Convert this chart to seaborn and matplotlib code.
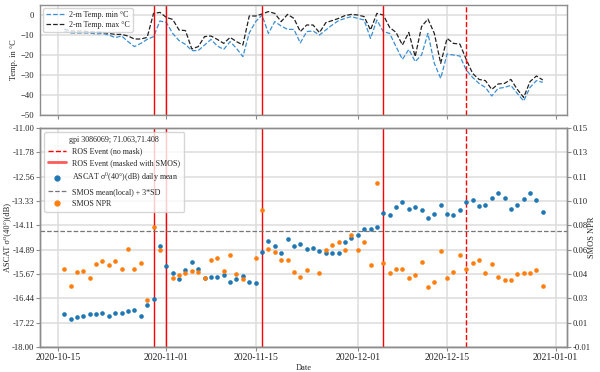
import numpy as np
import pandas as pd
import matplotlib
matplotlib.use("Agg")
import matplotlib.pyplot as plt
import matplotlib.dates as mdates
from matplotlib.lines import Line2D
import seaborn as sns

# daily series 2020-10-16 .. 2020-12-30
start_day = "2020-10-16"
end_day = "2020-12-30"

ascat_db = [-16.93, -17.10, -17.04, -17.02, -16.93, -16.93, -16.92, -17.02, -16.90, -16.92,
            -16.86, -16.82, -17.00, -16.66, -16.45, -14.77,
            -15.40, -15.63, -15.84, -15.53, -15.27, -15.51, -15.78, -15.75, -15.77, -15.69,
            -15.91, -15.83, -15.72, -15.91, -15.94, -14.96, -14.62, -14.78, -15.00, -14.54,
            -14.78, -14.71, -14.87, -14.85, -14.93, -15.00, -15.00, -14.98, -14.64, -14.53,
            -14.43, -14.23, -14.23, -14.16, -13.73, -13.78, -13.53, -13.37, -13.59, -13.52,
            -13.63, -13.89, -13.75, -13.46, -13.74, -13.78, -13.62, -13.35, -13.31, -13.48,
            -13.45, -13.24, -13.09, -13.24, -13.60, -13.45, -13.27, -13.09, -13.29, -13.67]

smos_npr = [0.0470, 0.0348, 0.0446, 0.0455, 0.0404, 0.0509, 0.0528, 0.0497, 0.0528, 0.0467,
            0.0618, 0.0467, 0.0516, 0.0241, 0.0779, 0.0606,
            np.nan, 0.0402, 0.0428, 0.0443, 0.0457, 0.0448, 0.0402, 0.0533, 0.0552, 0.0453,
            0.0572, 0.0433, 0.0397, np.nan, 0.0552, 0.0901, 0.0616, 0.0597, 0.0536, 0.0536,
            0.0448, 0.0414, 0.0463, np.nan, 0.0438, 0.0611, 0.0648, 0.0670, 0.0606, 0.0716,
            0.0606, 0.0665, 0.0497, 0.1096, 0.0511, 0.0443, 0.0470, 0.0470, 0.0406, 0.0428,
            0.0523, 0.0336, 0.0373, 0.0605, 0.0406, 0.0448, 0.0575, 0.0472, 0.0516, 0.0538,
            0.0443, 0.0509, 0.0409, 0.0390, 0.0387, 0.0436, 0.0443, 0.0443, 0.0463, 0.0346]

temp_min = [-8, -9, -9, -9, -9, -9.5, -9.2, -10, -11.3, -10.5,
            -13.3, -15.8, -14.2, -12.2, -10.8, -3, -3.7, -9.2, -12.8, -14.7,
            -17.8, -17.8, -15, -12.2, -15.5, -17.2, -13.3, -16.7, -20.8, -9,
            -3.3, 0, -9.2, -3.3, -5.5, -7.2, -7.2, -14, -8.3, -8,
            -10, -7.5, -5, -2.8, -1.7, -0.8, -1.7, -2.5, -11.7, -2.5,
            -8.3, -9.2, -15.8, -22.2, -17.2, -23.3, -20, -9.2, -24.2, -31.7,
            -19.5, -20, -20.5, -27.5, -31.2, -34.2, -36.2, -40.5, -36.7, -36.2,
            -35.2, -39.2, -43, -36.2, -32.8, -33.7]

temp_max = [-7, -8, -8, -8, -8.5, -8.5, -8.7, -9.2, -9.7, -9.7,
            -10.5, -12, -12, -11.2, 0.8, 1.3, -1.2, -2.2, -7.5, -7.8,
            -17, -15.8, -10.8, -10.5, -12.2, -14.2, -11.2, -13.3, -15, -0.5,
            -0.5, 0.5, 1.7, 0.8, -3.3, 0.3, -1.7, -8.3, -5, -5,
            -8.8, -3.8, -2.8, -1.7, -0.3, 0.3, 0, -0.8, -7.5, 0.8,
            0, -6.2, -8.7, -15, -8.7, -20.8, -5.8, -2, -9.2, -24.2,
            -11.7, -14.2, -14.5, -22.2, -29.2, -32.2, -32.8, -37.2, -34.5, -34.2,
            -32.2, -37.2, -41.2, -33.3, -30.5, -32.5]

ros_masked = ["2020-10-30", "2020-11-01", "2020-11-16", "2020-12-05"]
ros_nomask = ["2020-12-18"]
smos_threshold = 0.0748
gpi_title = "gpi 3086069; 71.063,71.408"
date_ticks = ["2020-10-15", "2020-11-01", "2020-11-15", "2020-12-01", "2020-12-15", "2021-01-01"]

dates = pd.date_range(start_day, end_day, freq="D")
df = pd.DataFrame({"date": dates, "ascat": ascat_db, "npr": smos_npr,
                   "tmin": temp_min, "tmax": temp_max})

sns.set_style("whitegrid")
plt.rcParams["font.family"] = ["Liberation Serif", "DejaVu Serif"]
plt.rcParams["font.size"] = 6
plt.rcParams["mathtext.fontset"] = "stix"

fig = plt.figure(figsize=(6, 3.72), dpi=100)
ax_t = fig.add_axes([40 / 600, 1 - 115 / 372, 527 / 600, 110 / 372])
ax = fig.add_axes([40 / 600, 1 - 347 / 372, 527 / 600, 219 / 372], sharex=ax_t)
ax2 = ax.twinx()

grid_kw = dict(color="#dcdcdc", linewidth=1.1)
spine_col = "#8c8c8c"
leg_fs = 5.8

# --- temperature panel ---
sns.lineplot(data=df, x="date", y="tmin", ax=ax_t, color="#3b8fd4", linestyle="--",
             linewidth=0.9, label="2-m Temp. min \u00b0C")
sns.lineplot(data=df, x="date", y="tmax", ax=ax_t, color="#222222", linestyle="--",
             linewidth=0.9, label="2-m Temp. max \u00b0C")
for d in ros_masked:
    ax_t.axvline(pd.Timestamp(d), color="red", linewidth=1)
for d in ros_nomask:
    ax_t.axvline(pd.Timestamp(d), color="red", linewidth=1, linestyle="--")
ax_t.set_ylim(-50, 5)
ax_t.set_yticks([0, -10, -20, -30, -40, -50])
ax_t.set_ylabel("Temp. in \u00b0C", fontsize=6)
ax_t.set_xlabel("")
ax_t.legend(loc="upper left", fontsize=leg_fs, frameon=True, borderpad=0.35,
            labelspacing=0.25, handlelength=2.2, handletextpad=0.7, borderaxespad=0.4)
plt.setp(ax_t.get_xticklabels(), visible=False)

# --- backscatter / NPR panel ---
sns.scatterplot(data=df, x="date", y="ascat", ax=ax, color="#1f77b4", s=11,
                linewidth=0, zorder=3)
sns.scatterplot(data=df, x="date", y="npr", ax=ax2, color="#ff7f0e", s=11,
                linewidth=0, zorder=3)
for d in ros_masked:
    ax.axvline(pd.Timestamp(d), color="red", linewidth=1)
for d in ros_nomask:
    ax.axvline(pd.Timestamp(d), color="red", linewidth=1, linestyle="--")
ax2.axhline(smos_threshold, color="#777777", linestyle="--", linewidth=0.9)

ax.set_ylim(-18, -11)
ax.set_yticks(np.linspace(-11, -18, 10))
ax.yaxis.set_major_formatter(matplotlib.ticker.FormatStrFormatter("%.2f"))
ax2.set_ylim(-0.01, 0.15)
ax2.set_yticks(np.linspace(0.15, -0.01, 10))
ax2.yaxis.set_major_formatter(matplotlib.ticker.FormatStrFormatter("%.2f"))
ax.set_ylabel("ASCAT \u03c3\u2070(40\u00b0)(dB)", fontsize=6)
ax2.set_ylabel("SMOS NPR", fontsize=6)
ax.set_xlabel("Date", fontsize=6)
ax.yaxis.set_label_coords(-0.0545, 0.5)
ax2.yaxis.set_label_coords(1.040, 0.5)

ax.set_xlim(pd.Timestamp("2020-10-12 05:00"), pd.Timestamp("2021-01-02 19:00"))
ax.set_xticks([pd.Timestamp(t) for t in date_ticks])
ax.xaxis.set_major_formatter(mdates.DateFormatter("%Y-%m-%d"))

handles = [
    Line2D([], [], color="red", linestyle="--", linewidth=1),
    Line2D([], [], color="#ff5a5a", linewidth=2),
    Line2D([], [], color="#1f77b4", marker="o", linestyle="", markersize=3.5),
    Line2D([], [], color="#777777", linestyle="--", linewidth=0.9),
    Line2D([], [], color="#ff7f0e", marker="o", linestyle="", markersize=3.5),
]
labels = ["ROS Event (no mask)", "ROS Event (masked with SMOS)",
          "ASCAT \u03c3$^0$(40\u00b0)(dB) daily mean", "SMOS mean(local) + 3*SD", "SMOS NPR"]
leg = ax2.legend(handles, labels, title=gpi_title, loc="upper left", fontsize=leg_fs,
                 title_fontsize=leg_fs, frameon=True, borderpad=0.5, labelspacing=0.45,
                 handlelength=2.2, handletextpad=0.8, borderaxespad=0.5)
leg.set_zorder(10)

for a in (ax_t, ax, ax2):
    a.grid(False)
for a in (ax_t, ax):
    a.grid(True, **grid_kw)
    a.set_axisbelow(True)
for a in (ax_t, ax, ax2):
    for s in a.spines.values():
        s.set_color(spine_col)
        s.set_linewidth(1)
    a.tick_params(axis="both", which="major", length=3, width=0.8, color=spine_col,
                  labelsize=6.2, pad=1)
ax.tick_params(axis="x", labelsize=7, pad=1.5)
ax_t.tick_params(axis="x", bottom=True)
ax.tick_params(axis="x", bottom=True)
ax_t.yaxis.labelpad = 2
ax.xaxis.labelpad = 1

fig.savefig("out.png", dpi=100)
